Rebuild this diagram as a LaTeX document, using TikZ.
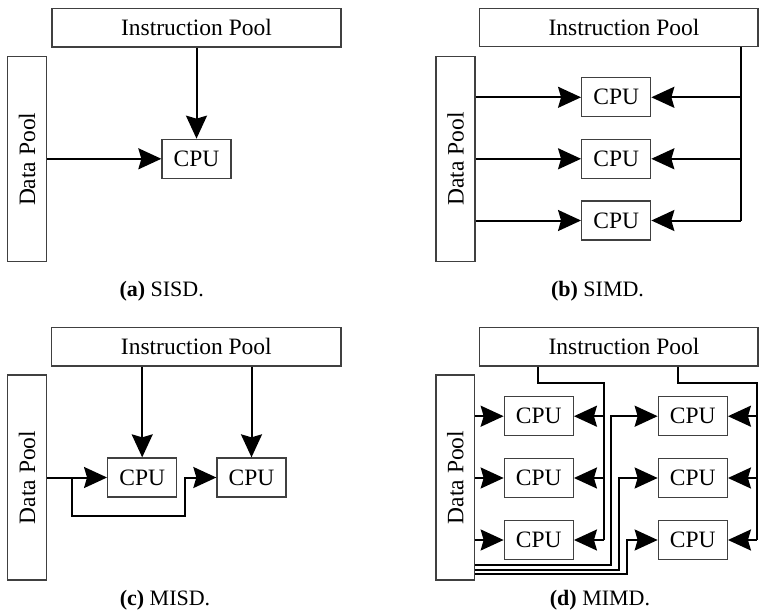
\documentclass[tikz,border=0pt]{standalone}
\usepackage{fontspec}
\setmainfont{Liberation Serif}
\usetikzlibrary{arrows.meta,calc}
\tikzset{
  headtip/.tip={Stealth[length=23pt,width=21pt,inset=3pt]}
}
\begin{document}
\begin{tikzpicture}[x=1pt,y=-1pt,
  box/.style={draw=black!75, line width=1.3pt, inner sep=0pt,
              font=\fontsize{23.5}{28}\selectfont},
  cpu/.style={box, minimum width=69pt, minimum height=39pt},
  ipool/.style={box, minimum height=38.4pt},
  dpool/.style={box, minimum width=39pt, minimum height=205pt},
  wire/.style={line width=2pt},
  feed/.style={wire, -headtip},
  subcap/.style={font=\fontsize{22}{26}\selectfont}
]
\useasboundingbox (0,0) rectangle (760,615);

% ---------------- (a) SISD ----------------
\node[ipool, minimum width=289pt] (ipa) at (196.5,27.9) {Instruction Pool};
\node[dpool] (dpa) at (27.2,159.3) {\rotatebox{90}{Data Pool}};
\node[cpu] (cpua) at (196.5,158.8) {CPU};
\draw[feed] (ipa.south -| cpua) -- (cpua.north);
\draw[feed] (dpa.east |- cpua) -- (cpua.west);
\node[subcap] at (161.7,291) {\textbf{(a)} SISD.};

% ---------------- (b) SIMD ----------------
\node[ipool, minimum width=278.7pt] (ipb) at (618.65,27.5) {\hspace*{10.7pt}Instruction Pool};
\node[dpool] (dpb) at (455.5,158.9) {\rotatebox{90}{Data Pool}};
\node[cpu] (cpub1) at (616.2,97.3) {CPU};
\node[cpu] (cpub2) at (616.2,158.8) {CPU};
\node[cpu] (cpub3) at (616.2,220.5) {CPU};
\coordinate (busb) at (740.7,220.5);
\draw[wire] (ipb.south -| busb) -- (busb);
\foreach \c in {cpub1,cpub2,cpub3} {
  \draw[feed] (\c -| busb) -- (\c.east);
  \draw[feed] (dpb.east |- \c) -- (\c.west);
}
\node[subcap] at (597.5,291) {\textbf{(b)} SIMD.};

% ---------------- (c) MISD ----------------
\node[ipool, minimum width=289.3pt] (ipc) at (196.35,346.85) {Instruction Pool};
\node[dpool] (dpc) at (27.2,477.5) {\rotatebox{90}{Data Pool}};
\node[cpu] (cpuc1) at (142.2,477.5) {CPU};
\node[cpu] (cpuc2) at (251.5,477.5) {CPU};
\draw[feed] (ipc.south -| cpuc1) -- (cpuc1.north);
\draw[feed] (ipc.south -| cpuc2) -- (cpuc2.north);
\draw[feed] (dpc.east |- cpuc1) -- (cpuc1.west);
\draw[feed] ($(dpc.east |- cpuc1)+(25,0)$) |- ($(cpuc1.south east)+(7.6,18)$) |- (cpuc2.west);
\node[subcap] at (165,600) {\textbf{(c)} MISD.};

% ---------------- (d) MIMD ----------------
\node[ipool, minimum width=278.7pt] (ipd) at (618.65,346.85) {\hspace*{10.7pt}Instruction Pool};
\node[dpool, minimum width=38.5pt] (dpd) at (455.25,477.5) {\rotatebox{90}{Data Pool}};
\node[cpu] (cpud1) at (538.8,416.2) {CPU};
\node[cpu] (cpud2) at (538.8,478) {CPU};
\node[cpu] (cpud3) at (538.8,540) {CPU};
\node[cpu] (cpud4) at (692.8,416.2) {CPU};
\node[cpu] (cpud5) at (692.8,478) {CPU};
\node[cpu] (cpud6) at (692.8,540) {CPU};
% instruction buses
\coordinate (busd1) at (604,540);
\coordinate (busd2) at (756.7,540);
\draw[wire] ($(ipd.south west)+(59.7,0)$) |- ($(busd1)+(0,-157.3)$) -- (busd1);
\draw[wire] ($(ipd.south west)+(199.7,0)$) |- ($(busd2)+(0,-157.3)$) -- (busd2);
\foreach \c in {cpud1,cpud2,cpud3}
  \draw[feed] (\c -| busd1) -- (\c.east);
\foreach \c in {cpud4,cpud5,cpud6}
  \draw[feed] (\c -| busd2) -- (\c.east);
% data to the first column
\foreach \c in {cpud1,cpud2,cpud3}
  \draw[feed] (dpd.east |- \c) -- (\c.west);
% data routed under the first column to the second
\draw[feed] ([yshift=15.5pt]dpd.south east) -| ($(cpud4.west)+(-46.6,0)$) -- (cpud4.west);
\draw[feed] ([yshift=11pt]dpd.south east) -| ($(cpud5.west)+(-38.3,0)$) -- (cpud5.west);
\draw[feed] ([yshift=6.5pt]dpd.south east) -| ($(cpud6.west)+(-30.6,0)$) -- (cpud6.west);
\node[subcap] at (600,600) {\textbf{(d)} MIMD.};
\end{tikzpicture}
\end{document}
